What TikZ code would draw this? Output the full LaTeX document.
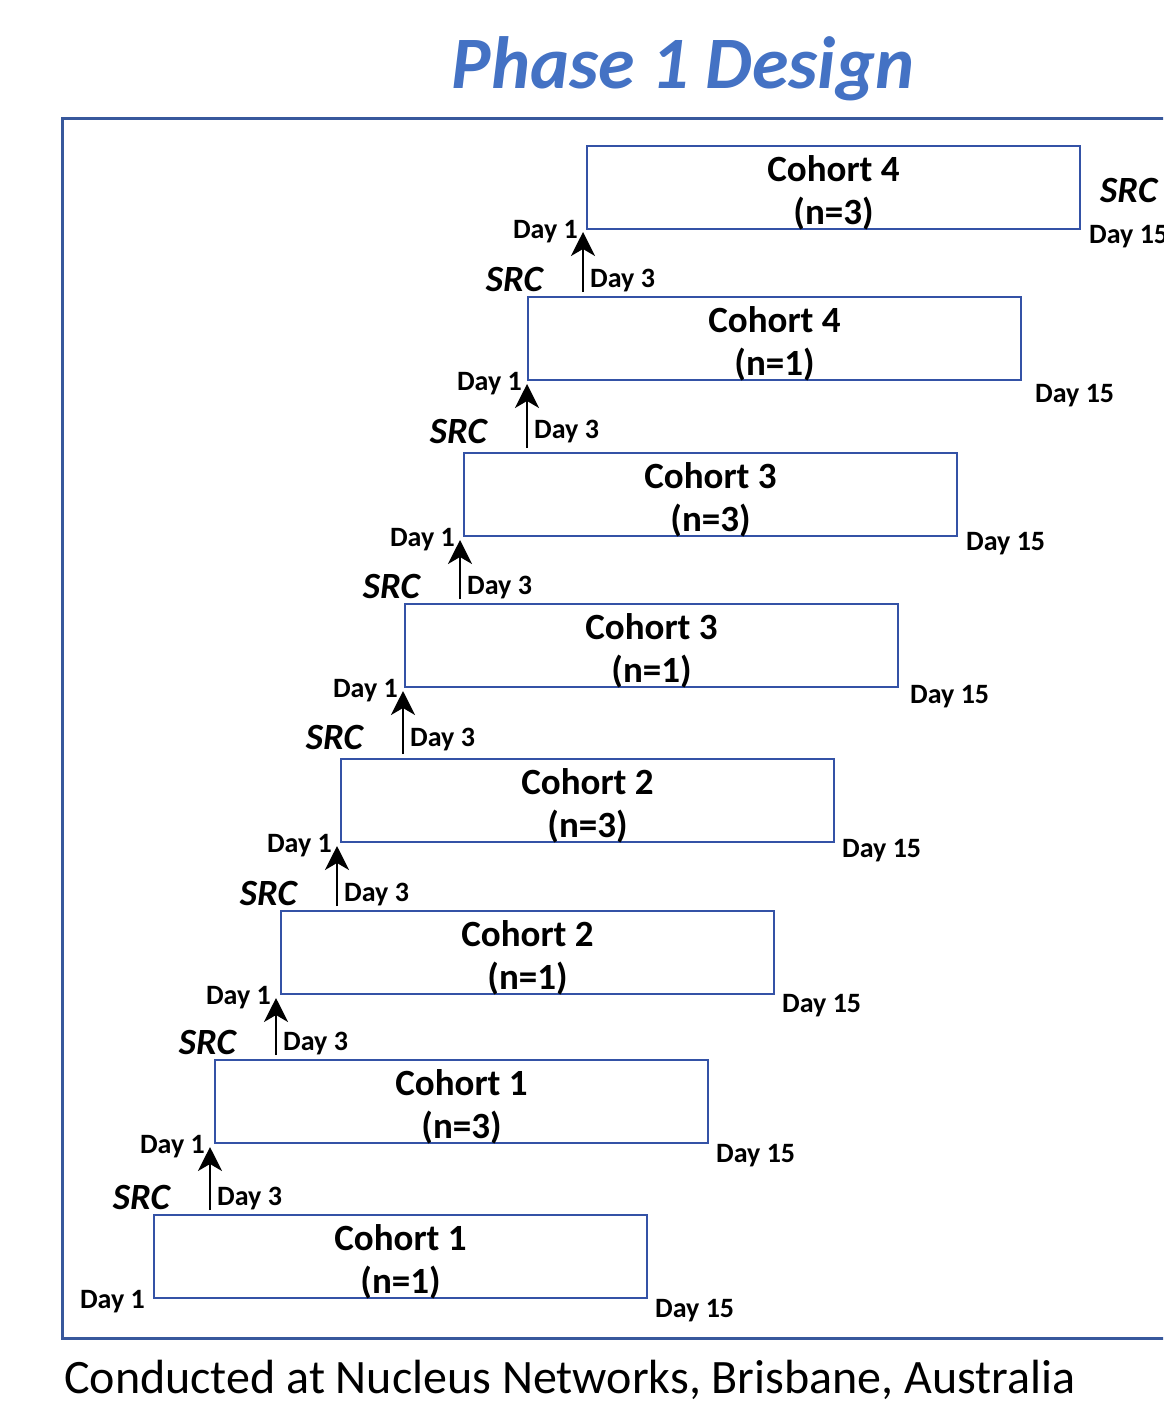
\documentclass[tikz,border=0pt]{standalone}
\usepackage{fontspec}
\setmainfont{Carlito}
\usepackage{tikz}
\usetikzlibrary{arrows.meta}
\definecolor{titleblue}{RGB}{68,114,196}
\definecolor{frameblue}{RGB}{56,88,156}
\definecolor{boxblue}{RGB}{52,82,166}
\newcommand{\arw}{-{Stealth[length=24pt,width=24pt,inset=7pt]}}
\tikzset{
  cohort/.style={draw=boxblue,line width=2pt,minimum width=493pt,minimum height=83pt,
    inner sep=0pt,text height=73pt,text depth=0pt,align=center,
    font=\fontsize{37}{43}\selectfont\bfseries},
  day/.style={inner sep=0pt,font=\fontsize{28}{32}\selectfont\bfseries},
  src/.style={inner sep=0pt,font=\fontsize{37}{42}\selectfont\bfseries\itshape},
}

\begin{document}
\begin{tikzpicture}[x=1pt,y=-1pt]
\useasboundingbox (0,0) rectangle (1163,1403);
\clip (0,0) rectangle (1163,1403);
\node[text=titleblue,font=\fontsize{74}{88}\selectfont\bfseries\itshape] (title) at (683,69) {Phase 1 Design};
\draw[frameblue,line width=3pt] (62,118) rectangle (1200,1338);
%cohort boxes
\node[cohort] (c1) at (400.5,1256.5) {Cohort 1\\(n=1)};
\node[cohort] (c2) at (461.5,1101.5) {Cohort 1\\(n=3)};
\node[cohort] (c3) at (527.5, 952.5) {Cohort 2\\(n=1)};
\node[cohort] (c4) at (587.5, 800.5) {Cohort 2\\(n=3)};
\node[cohort] (c5) at (651.5, 645.5) {Cohort 3\\(n=1)};
\node[cohort] (c6) at (710.5, 494.5) {Cohort 3\\(n=3)};
\node[cohort] (c7) at (774.5, 338.5) {Cohort 4\\(n=1)};
\node[cohort] (c8) at (833.5, 187.5) {Cohort 4\\(n=3)};
%arrows between cohorts
\coordinate (s1) at (210,1210); \coordinate (t1) at (210,1147);
\coordinate (s2) at (276,1055); \coordinate (t2) at (276, 998);
\coordinate (s3) at (337, 906); \coordinate (t3) at (337, 846);
\coordinate (s4) at (403, 754); \coordinate (t4) at (403, 691);
\coordinate (s5) at (460, 599); \coordinate (t5) at (460, 540);
\coordinate (s6) at (527, 448); \coordinate (t6) at (527, 384);
\coordinate (s7) at (583, 292); \coordinate (t7) at (583, 232);
\draw[line width=1.6pt,\arw] (s1) -- (t1);
\draw[line width=1.6pt,\arw] (s2) -- (t2);
\draw[line width=1.6pt,\arw] (s3) -- (t3);
\draw[line width=1.6pt,\arw] (s4) -- (t4);
\draw[line width=1.6pt,\arw] (s5) -- (t5);
\draw[line width=1.6pt,\arw] (s6) -- (t6);
\draw[line width=1.6pt,\arw] (s7) -- (t7);
%day 1 labels
\node[day,anchor=east] (dayone1) at (145,1302) {Day 1};
\node[day,anchor=east] (dayone2) at (205,1147) {Day 1};
\node[day,anchor=east] (dayone3) at (271, 998) {Day 1};
\node[day,anchor=east] (dayone4) at (332, 846) {Day 1};
\node[day,anchor=east] (dayone5) at (398, 691) {Day 1};
\node[day,anchor=east] (dayone6) at (455, 540) {Day 1};
\node[day,anchor=east] (dayone7) at (522, 384) {Day 1};
\node[day,anchor=east] (dayone8) at (578, 232) {Day 1};
%day 3 labels
\node[day,anchor=west] (daythree1) at (217,1199) {Day 3};
\node[day,anchor=west] (daythree2) at (283,1044) {Day 3};
\node[day,anchor=west] (daythree3) at (344, 895) {Day 3};
\node[day,anchor=west] (daythree4) at (410, 740) {Day 3};
\node[day,anchor=west] (daythree5) at (467, 588) {Day 3};
\node[day,anchor=west] (daythree6) at (534, 432) {Day 3};
\node[day,anchor=west] (daythree7) at (590, 281) {Day 3};
%day 15 labels
\node[day,anchor=west] (dayend1) at ( 655,1311) {Day 15};
\node[day,anchor=west] (dayend2) at ( 716,1156) {Day 15};
\node[day,anchor=west] (dayend3) at ( 782,1006) {Day 15};
\node[day,anchor=west] (dayend4) at ( 842, 851) {Day 15};
\node[day,anchor=west] (dayend5) at ( 910, 697) {Day 15};
\node[day,anchor=west] (dayend6) at ( 966, 544) {Day 15};
\node[day,anchor=west] (dayend7) at (1035, 396) {Day 15};
\node[day,anchor=west] (dayend8) at (1089, 237) {Day 15};
%SRC labels
\node[src,anchor=east] (src1) at (170,1197) {SRC};
\node[src,anchor=east] (src2) at (236,1042) {SRC};
\node[src,anchor=east] (src3) at (297, 893) {SRC};
\node[src,anchor=east] (src4) at (363, 737) {SRC};
\node[src,anchor=east] (src5) at (420, 586) {SRC};
\node[src,anchor=east] (src6) at (487, 431) {SRC};
\node[src,anchor=east] (src7) at (543, 279) {SRC};
\node[src,anchor=west] (src8) at (1100,190) {SRC};
\node[anchor=west,inner sep=0pt,font=\fontsize{48}{56}\selectfont] (site) at (64,1380)
  {Conducted at Nucleus Networks, Brisbane, Australia};
\end{tikzpicture}
\end{document}
